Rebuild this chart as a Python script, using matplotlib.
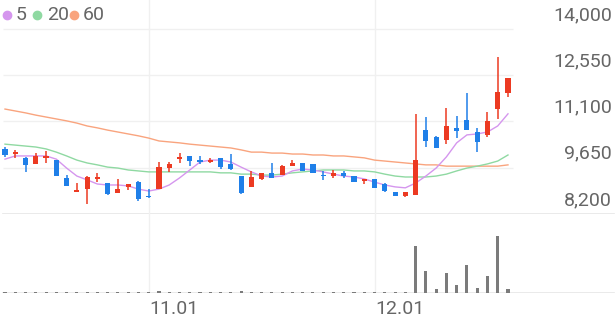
import matplotlib
matplotlib.use("Agg")
import matplotlib.pyplot as plt
import matplotlib.transforms as mtransforms
from matplotlib.lines import Line2D
import numpy as np

plt.rcParams['font.family'] = ['Roboto', 'DejaVu Sans']

# daily candles, 50 sessions (11.01 at index 14, 12.01 at index 36)
opens = [10240, 10080, 9960, 9770, 9960, 9890, 9330, 8890, 8980, 9300,
         9170, 8860, 9050, 9200, 8760, 8980, 9640, 9920, 10020, 9890,
         9830, 9960, 9770, 9390, 9050, 9300, 9490, 9420, 9700, 9800,
         9770, 9420, 9390, 9490, 9390, 9240, 9300, 9140, 8890, 8760,
         8800, 10830, 10610, 10520, 10900, 11150, 10770, 10680, 11490, 11990]
highs = [10300, 10210, 9990, 10110, 10180, 9890, 9420, 9170, 9390, 9490,
         9170, 9300, 9140, 9240, 8980, 9830, 9830, 10110, 10020, 10020,
         9960, 9960, 10080, 9390, 9550, 9490, 9800, 9740, 9890, 9800,
         9770, 9550, 9580, 9550, 9390, 9300, 9300, 9170, 8890, 8890,
         11340, 11240, 10650, 11520, 11270, 11990, 10900, 11400, 13120, 12460]
lows = [9990, 9960, 9520, 9770, 9800, 9390, 9080, 8890, 8510, 9200,
        8800, 8860, 8950, 8610, 8700, 8980, 9520, 9800, 9710, 9770,
        9800, 9610, 9580, 8830, 9050, 9270, 9330, 9420, 9700, 9550,
        9490, 9270, 9330, 9330, 9200, 9140, 9020, 8890, 8760, 8730,
        8800, 10300, 10270, 10400, 10580, 10830, 10140, 10610, 11180, 11870]
closes = [10050, 10140, 9740, 10020, 10020, 9390, 9080, 8950, 9360, 9360,
          8830, 8980, 9140, 8670, 8730, 9670, 9770, 9990, 9860, 9830,
          9890, 9670, 9610, 8860, 9360, 9490, 9330, 9700, 9800, 9550,
          9490, 9390, 9490, 9390, 9200, 9300, 9020, 8920, 8760, 8890,
          9890, 10490, 10270, 10960, 10800, 10830, 10460, 11120, 12030, 12460]

ma5 = [9920, 10020, 10020, 10020, 10020, 9920, 9640, 9390, 9270, 9140,
       9110, 9110, 9080, 8980, 8920, 8980, 9110, 9330, 9580, 9830,
       9890, 9890, 9830, 9670, 9520, 9390, 9360, 9390, 9550, 9610,
       9580, 9520, 9450, 9390, 9360, 9300, 9200, 9110, 9050, 9020,
       9170, 9390, 9640, 9990, 10430, 10680, 10710, 10770, 10960, 11340]
ma20 = [10390, 10360, 10330, 10300, 10240, 10140, 10020, 9890, 9800, 9740,
        9670, 9640, 9580, 9550, 9520, 9520, 9520, 9520, 9520, 9520,
        9520, 9490, 9490, 9450, 9450, 9420, 9420, 9450, 9490, 9520,
        9550, 9580, 9580, 9580, 9550, 9550, 9520, 9450, 9390, 9360,
        9360, 9360, 9390, 9450, 9550, 9640, 9700, 9770, 9860, 10050]
ma60 = [11490, 11430, 11370, 11300, 11240, 11180, 11120, 11050, 10960, 10900,
        10830, 10770, 10710, 10650, 10580, 10490, 10460, 10430, 10390, 10360,
        10330, 10300, 10270, 10210, 10140, 10140, 10110, 10110, 10080, 10080,
        10050, 10050, 10020, 10020, 9990, 9960, 9890, 9860, 9830, 9800,
        9770, 9740, 9740, 9700, 9700, 9700, 9700, 9700, 9700, 9740]

volume = [1, 1, 1, 1, 0.8, 1, 1, 1, 1, 1,
          1, 1, 1, 1, 1, 2.5, 1, 1, 1, 1,
          1, 1, 1, 2.5, 1, 1, 1, 1, 1, 1,
          1, 1, 1, 1, 1, 1, 1, 1, 1, 1,
          47, 22, 4, 20, 8, 28, 5, 17, 57, 4]

price_ticks = [14000, 12550, 11100, 9650, 8200]
date_labels = {14: "11.01", 36: "12.01"}

RED = '#ec3a22'
BLUE = '#1f7fe8'
GRID = '#f0f0f0'
LINE = '#e6e6e6'
TXT = '#666666'

W, H = 616, 321
fig = plt.figure(figsize=(W / 100, H / 100), dpi=100)

x = np.arange(len(closes))
px_per_idx = 10.265
x0 = -5 / px_per_idx
x1 = (W - 5) / px_per_idx

# price pane: pixels 0..214 from top
ax = fig.add_axes([0, (H - 214) / H, 1, 214 / H])
ax.set_xlim(x0, x1)
ax.set_ylim(8200, 8200 + 214 * 31.35)
ax.axis('off')

ax.hlines(price_ticks[:-1], -0.2, 49.5, color=GRID, lw=1, zorder=0)
ax.axhline(8200, xmin=3 / W, xmax=614 / W, color=LINE, lw=1.2, zorder=0)
for i in date_labels:
    ax.axvline(i, color=GRID, lw=1, zorder=0)

ax.plot(x, ma60, color='#f9a47e', lw=1.0, zorder=2)
ax.plot(x, ma20, color='#8fd9a2', lw=1.0, zorder=2)
ax.plot(x, ma5, color='#d596ee', lw=1.0, zorder=2)

o = np.array(opens)
c = np.array(closes)
cols = [RED if cc >= oo else BLUE for oo, cc in zip(o, c)]
ax.vlines(x, lows, highs, colors=cols, lw=1.1, zorder=3)
body_h = np.maximum(np.abs(c - o), 35)
ax.bar(x, body_h, bottom=np.minimum(o, c), width=0.5, color=cols, zorder=4)

trans = mtransforms.blended_transform_factory(ax.transAxes, ax.transData)
for v in price_ticks:
    ax.annotate(f"{v:,}", xy=(1, v), xycoords=trans, xytext=(-4, 14),
                textcoords='offset pixels', ha='right', va='center',
                fontsize=14, color=TXT)

# volume pane: pixels 214..293
vol = fig.add_axes([0, (H - 293) / H, 1, 79 / H])
vol.set_xlim(x0, x1)
vol.set_ylim(0, 79)
vol.axis('off')
for i, lab in date_labels.items():
    vol.axvline(i, color=GRID, lw=1, zorder=0)
    vol.annotate(lab, xy=(i, 0), xycoords='data', xytext=(1, -16),
                 textcoords='offset pixels', ha='left', va='center',
                 fontsize=14, color=TXT, annotation_clip=False)
vol.axhline(0, xmin=3 / W, xmax=614 / W, color=LINE, lw=1.2, zorder=1)
vol.bar(x, volume, width=0.3, color='#7b7b7b', zorder=2)

# legend
legend = [("5", '#d596ee', 6.5, 16), ("20", '#8fd9a2', 37, 47), ("60", '#f9a47e', 74, 83)]
for lab, col, cx, tx in legend:
    fig.add_artist(Line2D([cx / W], [1 - 15 / H], marker='o', markersize=6,
                          color=col, transform=fig.transFigure, lw=0))
    fig.text(tx / W, 1 - 15 / H, lab, ha='left', va='center', fontsize=14, color=TXT)

fig.savefig("out.png", dpi=100)
